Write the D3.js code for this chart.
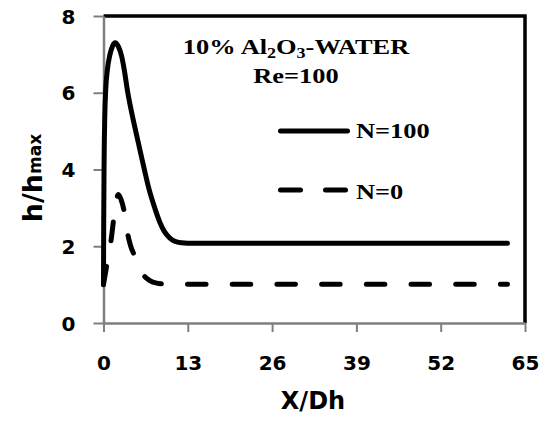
<!DOCTYPE html>
<html>
<head>
<meta charset="utf-8">
<script src="https://cdn.jsdelivr.net/npm/d3@7"></script>
<style>
  html, body { margin: 0; padding: 0; background: #fff; }
  svg { display: block; }
  .tick text { font-family: "DejaVu Sans", sans-serif; font-weight: bold; font-size: 20px; fill: #000; }
  .serif { font-family: "Liberation Serif", "Times New Roman", serif; font-weight: bold; font-size: 22px; fill: #000; }
</style>
</head>
<body>
<div id="chart"></div>
<script>
// N=100 curve (solid)
const n100X = [0, 0.03, 0.1, 0.2, 0.35, 0.6, 1.0, 1.4, 1.8, 2.3, 2.8, 3.2, 3.7, 4.2, 4.6, 5.5, 6.3, 7.0, 7.9, 8.7, 9.4, 10.2, 11.0, 12.0, 13.0, 20, 30, 40, 50, 62.3];
const n100Y = [1.0, 2.6, 4.3, 5.4, 6.1, 6.6, 7.0, 7.22, 7.3, 7.2, 6.95, 6.6, 6.05, 5.6, 5.28, 4.6, 4.0, 3.5, 3.0, 2.62, 2.38, 2.22, 2.13, 2.09, 2.08, 2.08, 2.08, 2.08, 2.08, 2.08];
// N=0 curve (dashed)
const n0X = [0, 0.3, 0.7, 1.2, 1.6, 2.0, 2.3, 2.7, 3.2, 3.7, 4.2, 4.8, 5.5, 6.3, 7.2, 8.2, 9.2, 10.2, 20, 30, 40, 50, 62.3];
const n0Y = [1.0, 1.3, 1.7, 2.2, 2.75, 3.22, 3.35, 3.22, 2.9, 2.35, 2.0, 1.75, 1.45, 1.22, 1.1, 1.04, 1.02, 1.01, 1.01, 1.01, 1.01, 1.01, 1.01];

const xTicks = [0, 13, 26, 39, 52, 65];
const yTicks = [0, 2, 4, 6, 8];
const seriesNames = ["N=100", "N=0"];

const width = 548, height = 421;
const plotL = 103.5, plotR = 525, plotT = 16, plotB = 323;

const svg = d3.select("#chart").append("svg")
  .attr("width", width)
  .attr("height", height);

const x = d3.scaleLinear().domain([0, 65]).range([plotL, plotR]);
const y = d3.scaleLinear().domain([0, 8]).range([plotB, plotT]);

// frame: top and right in black
svg.append("path")
  .attr("d", `M${plotL},${plotT}H${plotR}V${plotB}`)
  .attr("fill", "none")
  .attr("stroke", "#000")
  .attr("stroke-width", 3.5);

// axes in gray
const yAxis = svg.append("g")
  .attr("transform", `translate(${plotL},0)`)
  .call(d3.axisLeft(y).tickValues(yTicks).tickSize(10).tickPadding(18).tickSizeOuter(0));
const xAxis = svg.append("g")
  .attr("transform", `translate(0,${plotB})`)
  .call(d3.axisBottom(x).tickValues(xTicks).tickSize(9).tickSizeOuter(0));

[yAxis, xAxis].forEach(g => {
  g.select(".domain").attr("stroke", "#7f7f7f").attr("stroke-width", 2.5);
  g.selectAll(".tick line").attr("stroke", "#7f7f7f").attr("stroke-width", 2);
});
xAxis.selectAll(".tick text").attr("dy", null).attr("y", 47);
yAxis.selectAll(".tick text").attr("dy", "0.36em");

// lines
const line = d3.line()
  .x(d => x(d[0]))
  .y(d => y(d[1]))
  .curve(d3.curveMonotoneX);

svg.append("path")
  .datum(d3.zip(n100X, n100Y))
  .attr("d", line)
  .attr("fill", "none")
  .attr("stroke", "#000")
  .attr("stroke-width", 5)
  .attr("stroke-linecap", "round")
  .attr("stroke-linejoin", "round");

svg.append("path")
  .datum(d3.zip(n0X, n0Y))
  .attr("d", line)
  .attr("fill", "none")
  .attr("stroke", "#000")
  .attr("stroke-width", 5)
  .attr("stroke-linecap", "round")
  .attr("stroke-dasharray", "18.5,26.2");

// title
const title = svg.append("g").attr("transform", "translate(296,0) scale(1.2,1)");
const t1 = title.append("text").attr("class", "serif").attr("y", 54).attr("text-anchor", "middle");
t1.append("tspan").text("10% Al");
t1.append("tspan").attr("font-size", "15px").attr("dy", 4).text("2");
t1.append("tspan").attr("dy", -4).text("O");
t1.append("tspan").attr("font-size", "15px").attr("dy", 4).text("3");
t1.append("tspan").attr("dy", -4).text("-WATER");
title.append("text").attr("class", "serif").attr("y", 83).attr("text-anchor", "middle").text("Re=100");

// legend
const legend = svg.append("g");
const legendRows = [
  { name: seriesNames[0], ly: 131, ty: 138, dash: null },
  { name: seriesNames[1], ly: 190, ty: 199, dash: "20,25" }
];
legendRows.forEach(r => {
  legend.append("line")
    .attr("x1", 280.5).attr("x2", 347.5)
    .attr("y1", r.ly).attr("y2", r.ly)
    .attr("stroke", "#000")
    .attr("stroke-width", 5)
    .attr("stroke-linecap", "round")
    .attr("stroke-dasharray", r.dash);
  legend.append("g")
    .attr("transform", `translate(356,${r.ty}) scale(1.2,1)`)
    .append("text").attr("class", "serif").text(r.name);
});

// axis titles
svg.append("text")
  .attr("x", 313).attr("y", 409)
  .attr("text-anchor", "middle")
  .style("font-family", "DejaVu Sans, sans-serif")
  .style("font-weight", "bold")
  .style("font-size", "24px")
  .text("X/Dh");

const yt = svg.append("text")
  .attr("transform", "translate(42,178) rotate(-90)")
  .attr("text-anchor", "middle")
  .style("font-family", "DejaVu Sans, sans-serif")
  .style("font-weight", "bold")
  .style("font-size", "27px");
yt.append("tspan").text("h/h");
yt.append("tspan").attr("font-size", "17px").attr("dy", -1).text("max");
</script>
</body>
</html>
